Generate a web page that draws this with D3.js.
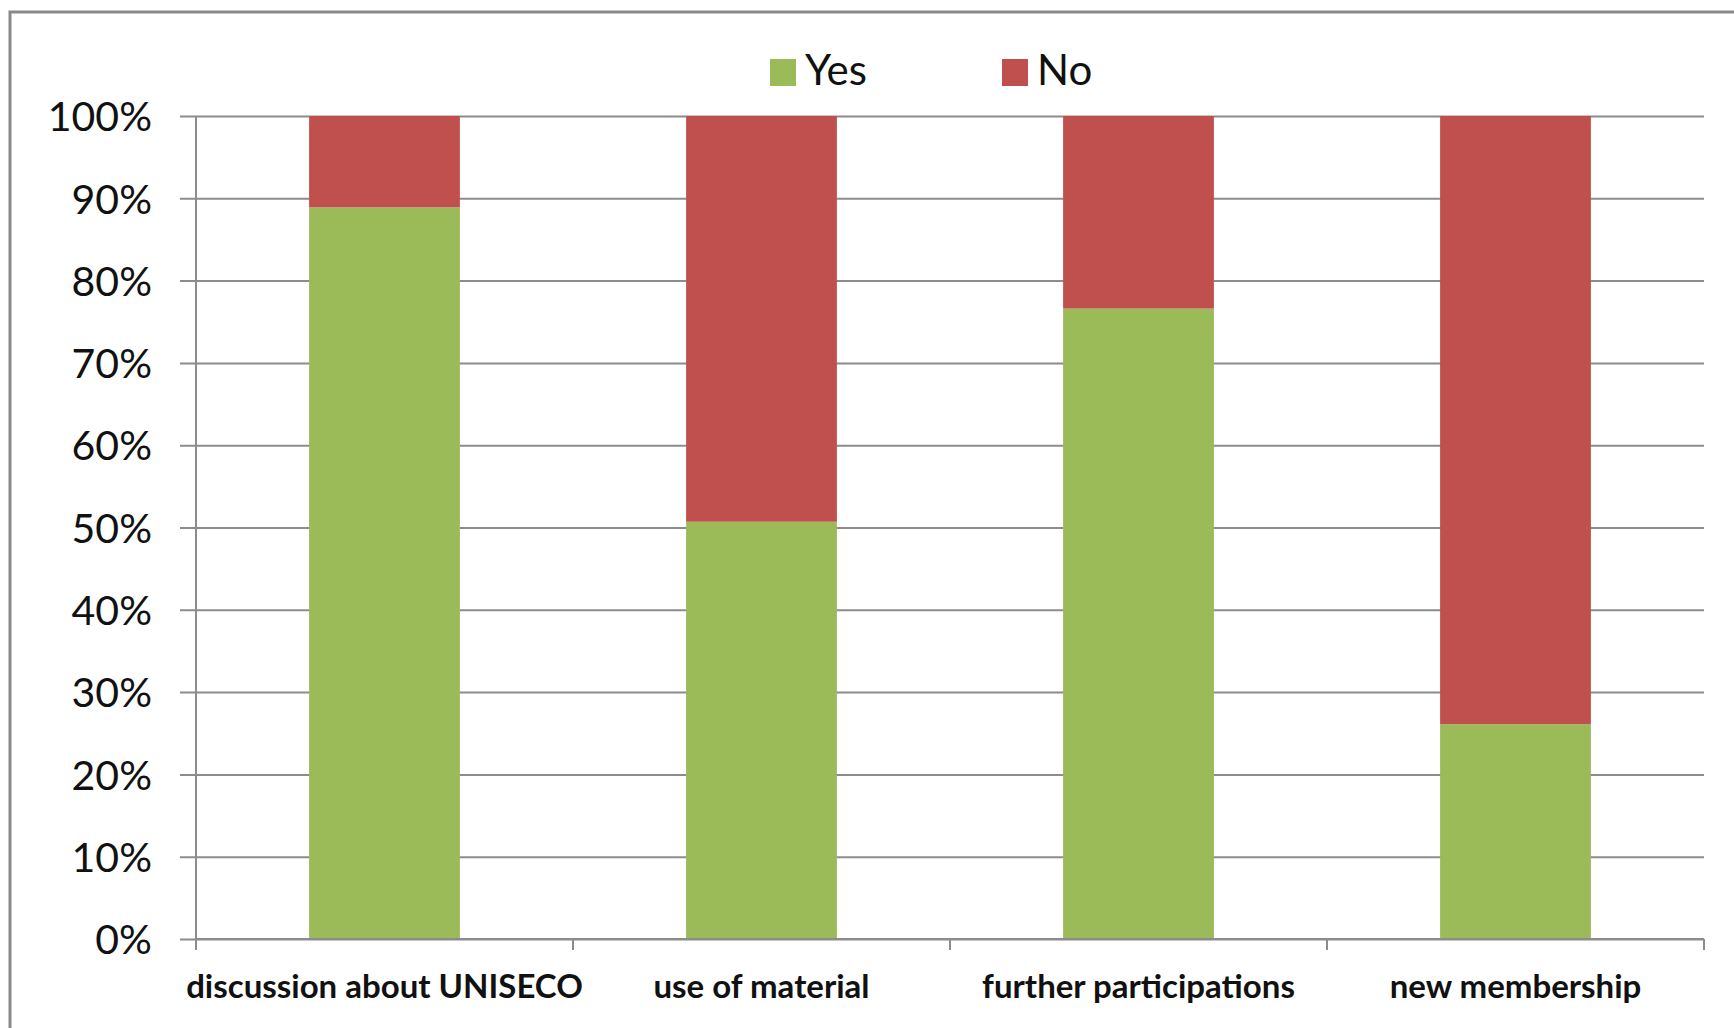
<!DOCTYPE html>
<html>
<head>
<meta charset="utf-8">
<script src="https://cdn.jsdelivr.net/npm/d3@7"></script>
<style>
  body { margin: 0; background: #fff; }
  text { font-family: Lato, "Open Sans", sans-serif; }
</style>
</head>
<body>
<div id="chart"></div>
<script>
var categories = ["discussion about UNISECO", "use of material", "further participations", "new membership"];
var yesValues = [88.9, 50.7, 76.6, 26.1];
var noValues = [11.1, 49.3, 23.4, 73.9];
var seriesNames = ["Yes", "No"];
var seriesColors = ["#9bbb59", "#c0504d"];
var yTicks = [0, 10, 20, 30, 40, 50, 60, 70, 80, 90, 100];

var totalW = 1734, totalH = 1028;
var margin = {top: 116, right: 30, bottom: 89, left: 196};
var width = totalW - margin.left - margin.right,
    height = totalH - margin.top - margin.bottom;

var svg = d3.select("#chart").append("svg")
    .attr("width", totalW)
    .attr("height", totalH);

svg.append("rect")
    .attr("width", totalW)
    .attr("height", totalH)
    .attr("fill", "#fff");

// outer chart frame (cropped at right/bottom like the original)
svg.append("rect")
    .attr("x", 10)
    .attr("y", 12)
    .attr("width", 1900)
    .attr("height", 1200)
    .attr("fill", "none")
    .attr("stroke", "#898989")
    .attr("stroke-width", 3);

var g = svg.append("g")
    .attr("transform", "translate(" + margin.left + "," + margin.top + ")");

var x = d3.scaleBand()
    .domain(categories)
    .range([0, width])
    .paddingInner(0.6)
    .paddingOuter(0.3);

var y = d3.scaleLinear()
    .domain([0, 100])
    .range([height, 0]);

var color = d3.scaleOrdinal()
    .domain(seriesNames)
    .range(seriesColors);

var rows = categories.map(function(c, i) {
    return {category: c, Yes: yesValues[i], No: noValues[i]};
});
var stacked = d3.stack().keys(seriesNames)(rows);

// gridlines + y axis
var yAxis = g.append("g")
    .call(d3.axisLeft(y)
        .tickValues(yTicks)
        .tickSize(-width - 16)
        .tickFormat(function(d) { return d + "%"; }))
    .attr("transform", "translate(-16,0)");
yAxis.select(".domain").remove();
yAxis.selectAll(".tick line")
    .attr("x1", 0)
    .attr("x2", width + 16)
    .attr("stroke", "#8c8c8c")
    .attr("stroke-width", 2);
yAxis.selectAll(".tick text")
    .attr("x", -28)
    .attr("dy", "0.36em")
    .attr("fill", "#111")
    .style("font-size", "41px");

g.append("line")
    .attr("x1", 0).attr("x2", 0)
    .attr("y1", 0).attr("y2", height + 10)
    .attr("stroke", "#8c8c8c")
    .attr("stroke-width", 2);

// bars
g.selectAll("g.series")
    .data(stacked)
    .enter().append("g")
    .attr("class", "series")
    .attr("fill", function(d) { return color(d.key); })
    .selectAll("rect")
    .data(function(d) { return d; })
    .enter().append("rect")
    .attr("x", function(d) { return x(d.data.category); })
    .attr("y", function(d) { return y(d[1]); })
    .attr("height", function(d) { return y(d[0]) - y(d[1]); })
    .attr("width", x.bandwidth());

// x axis
var xAxis = g.append("g")
    .attr("transform", "translate(0," + height + ")")
    .call(d3.axisBottom(x).tickSize(0).tickPadding(0));
xAxis.select(".domain")
    .attr("stroke", "#8c8c8c")
    .attr("stroke-width", 2)
    .attr("d", "M0,0H" + width);
xAxis.selectAll(".tick text")
    .attr("y", 59)
    .attr("dy", 0)
    .attr("fill", "#111")
    .style("font-size", "33px")
    .style("font-weight", "bold");

var step = x.step();
var bounds = categories.map(function(c) { return x(c) - step * 0.3; }).concat([width]);
xAxis.selectAll(".bound")
    .data(bounds)
    .enter().append("line")
    .attr("class", "bound")
    .attr("x1", function(d) { return d; })
    .attr("x2", function(d) { return d; })
    .attr("y1", 0)
    .attr("y2", 11)
    .attr("stroke", "#8c8c8c")
    .attr("stroke-width", 2);

// legend
var legendX = [770, 1002];
var legend = svg.selectAll("g.legend")
    .data(seriesNames)
    .enter().append("g")
    .attr("class", "legend")
    .attr("transform", function(d, i) { return "translate(" + legendX[i] + ",59)"; });

legend.append("rect")
    .attr("width", 26)
    .attr("height", 27)
    .attr("fill", color);

legend.append("text")
    .attr("x", 35)
    .attr("y", 26)
    .attr("fill", "#111")
    .style("font-size", "42px")
    .text(function(d) { return d; });
</script>
</body>
</html>
